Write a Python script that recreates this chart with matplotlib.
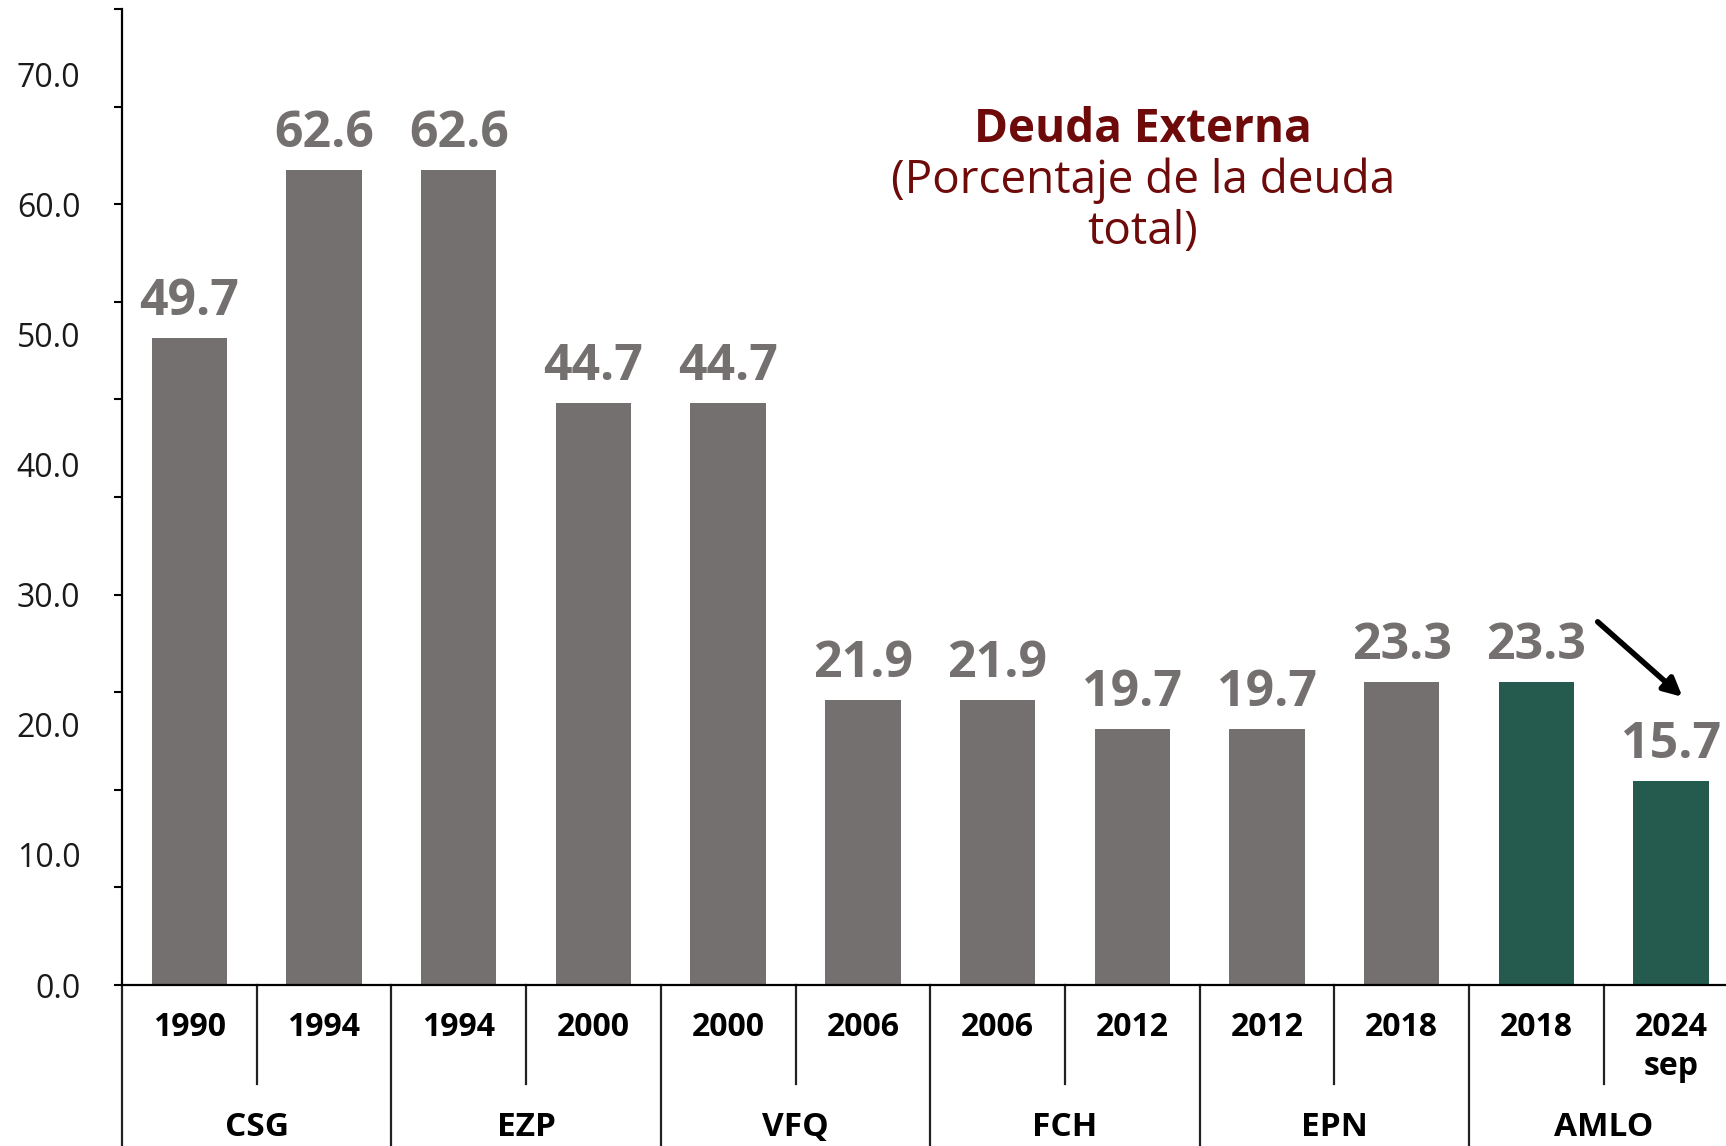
import matplotlib
matplotlib.use("Agg")
import matplotlib.pyplot as plt
from matplotlib.ticker import MultipleLocator, FixedLocator, FixedFormatter

plt.rcParams['font.family'] = ['Open Sans', 'DejaVu Sans']

years = ["1990", "1994", "1994", "2000", "2000", "2006", "2006", "2012", "2012", "2018", "2018", "2024"]
year_sub = ["", "", "", "", "", "", "", "", "", "", "", "sep"]
values = [49.7, 62.6, 62.6, 44.7, 44.7, 21.9, 21.9, 19.7, 19.7, 23.3, 23.3, 15.7]
groups = ["CSG", "EZP", "VFQ", "FCH", "EPN", "AMLO"]
value_labels = ["49.7", "62.6", "62.6", "44.7", "44.7", "21.9", "21.9", "19.7", "19.7", "23.3", "23.3", "15.7"]
ytick_values = [0, 10, 20, 30, 40, 50, 60, 70]

GRAY = "#74706f"
GREEN = "#245b4e"
TITLE_C = "#6e0a0a"
colors = [GRAY] * 10 + [GREEN] * 2

W, H = 1726, 1146
fig = plt.figure(figsize=(W / 100, H / 100), dpi=100)
fig.patch.set_facecolor("white")

left_px, right_px, top_px, bottom_px = 122, 1726, 9, 985
ax = fig.add_axes([left_px / W, 1 - bottom_px / H, (right_px - left_px) / W, (bottom_px - top_px) / H])
ax.set_facecolor("none")

x = list(range(len(values)))
ax.bar(x, values, width=0.56, color=colors, zorder=2)

ax.set_ylim(0, 75)
step = 134.7
ax.set_xlim(-0.5, -0.5 + (right_px - left_px) / step)

for s in ["top", "right"]:
    ax.spines[s].set_visible(False)
ax.spines["left"].set_linewidth(1.6)
ax.spines["bottom"].set_linewidth(1.6)

# y ticks: labels at multiples of 10, tick marks at multiples of 7.5
ax.yaxis.set_major_locator(FixedLocator(ytick_values))
ax.yaxis.set_major_formatter(FixedFormatter([f"{v:.1f}" for v in ytick_values]))
ax.yaxis.set_minor_locator(MultipleLocator(7.5))
ax.yaxis.remove_overlapping_locs = False
ax.tick_params(axis="y", which="major", length=0, pad=30, labelsize=23, labelcolor="#1a1a1a")
ax.tick_params(axis="y", which="minor", length=6, width=1.5, direction="out")
ax.set_xticks([])

# value labels
for xi, v, lab in zip(x, values, value_labels):
    ax.annotate(lab, (xi, v), xytext=(0, 8), textcoords="offset points",
                ha="center", va="bottom", fontsize=36, fontweight="bold", color=GRAY)

# category table below the axis
ypx = lambda px: -(px - bottom_px) / 13.01
for i in range(1, len(values) + 1):
    xb = i - 0.5
    end = 1150 if i % 2 == 0 else 1084
    ax.plot([xb, xb], [0, ypx(end)], color="#222222", lw=1.6, clip_on=False)
ax.plot([-0.5, -0.5], [0, ypx(1150)], color="#222222", lw=1.6, clip_on=False)

for xi, yr, sub in zip(x, years, year_sub):
    ax.text(xi, ypx(1027), yr, ha="center", va="center", fontsize=23, fontweight="bold", color="black")
    if sub:
        ax.text(xi, ypx(1066), sub, ha="center", va="center", fontsize=23, fontweight="bold", color="black")

for gi, g in enumerate(groups):
    ax.text(2 * gi + 0.5, ypx(1127), g, ha="center", va="center", fontsize=24, fontweight="bold", color="black")

# title
fig.text(1143 / W, 1 - 130 / H, "Deuda Externa", ha="center", va="center", fontsize=33, fontweight="bold", color=TITLE_C)
fig.text(1143 / W, 1 - 181 / H, "(Porcentaje de la deuda", ha="center", va="center", fontsize=33, color=TITLE_C)
fig.text(1143 / W, 1 - 232 / H, "total)", ha="center", va="center", fontsize=33, color=TITLE_C)

# arrow
ax.annotate("", xy=(11.10, 22.0), xytext=(10.44, 28.05),
            arrowprops=dict(arrowstyle="-|>,head_length=1.1,head_width=0.55", color="black", lw=4))

fig.savefig("out.png", dpi=100, facecolor=fig.get_facecolor())
